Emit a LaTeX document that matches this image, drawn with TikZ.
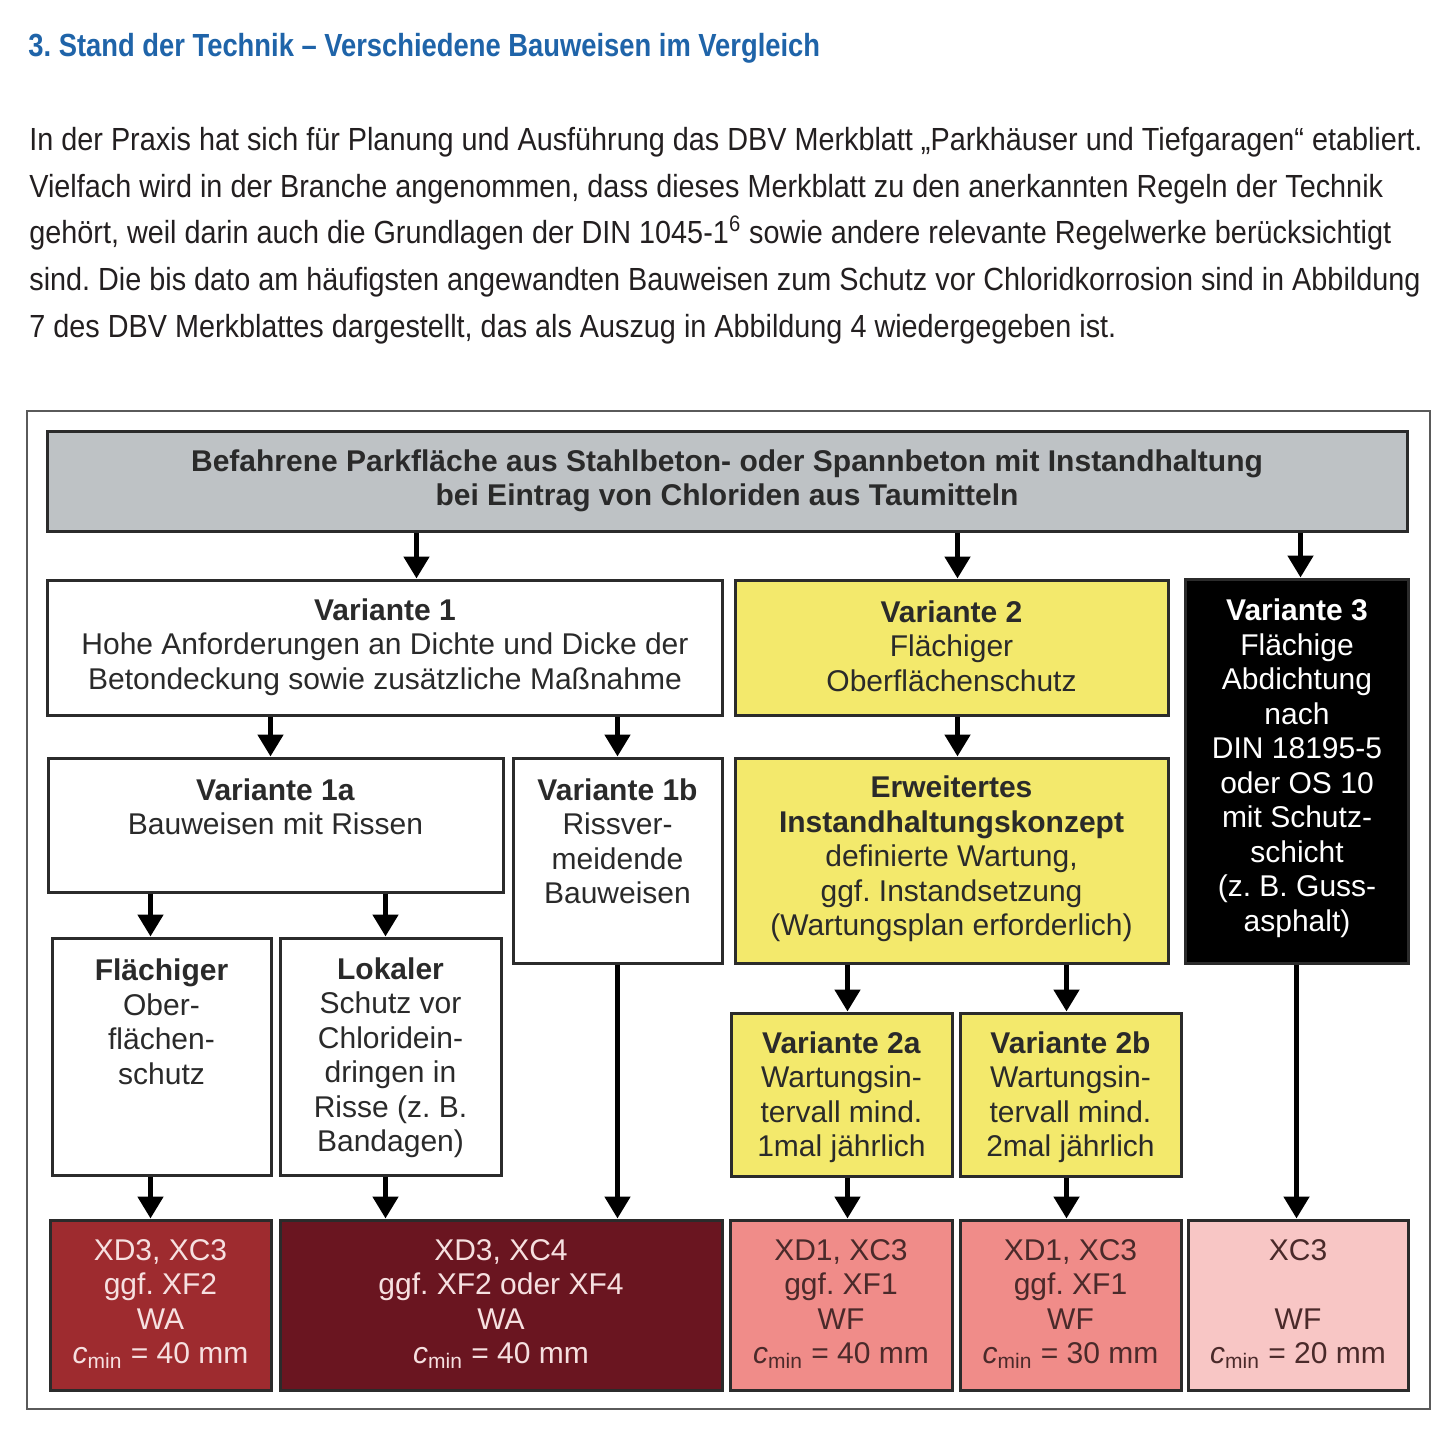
\documentclass[tikz,border=0pt]{standalone}
\usepackage{fontspec}
\setmainfont{Liberation Sans}
\newfontfamily\bodyfont[FakeStretch=0.9]{Liberation Sans}
\newfontfamily\headfont[FakeStretch=0.855]{Liberation Sans}
\usetikzlibrary{arrows.meta,calc}
\frenchspacing

\definecolor{titleblue}{HTML}{1F64A9}
\definecolor{bodytext}{HTML}{231F20}
\definecolor{framegray}{HTML}{5A5A5A}
\definecolor{boxline}{HTML}{2B2B2B}
\definecolor{boxtext}{HTML}{2A2A2A}
\definecolor{topgray}{HTML}{BEC2C5}
\definecolor{varyellow}{HTML}{F3E96C}
\definecolor{expA}{HTML}{9E2B2F}
\definecolor{expB}{HTML}{6A1520}
\definecolor{expC}{HTML}{F08C89}
\definecolor{expD}{HTML}{F8C6C5}
\definecolor{lighttext}{HTML}{F6E0E0}
\definecolor{darktext}{HTML}{4A2A2A}

\tikzset{
  box/.style={draw=boxline, line width=1.5pt, inner sep=0pt},
  lbl/.style={align=center, inner sep=0pt, text=boxtext,
    font=\fontsize{15}{17.25}\selectfont},
  arr/.style={line width=2.5pt, -{Triangle[width=12.5pt,length=11pt]}},
  bodyline/.style={anchor=base west, inner sep=0pt, text=bodytext,
    font=\bodyfont\fontsize{16}{20}\selectfont},
}

\newcommand{\cmin}{{\itshape c}\textsubscript{min}}

\begin{document}
\begin{tikzpicture}[x=0.5pt, y=-0.5pt]
  \useasboundingbox (0,0) rectangle (1444,1428);
  \fill[white] (0,0) rectangle (1444,1428);

  % heading and text above the figure
  \node[anchor=base west, inner sep=0pt, text=titleblue,
    font=\headfont\bfseries\fontsize{16}{18}\selectfont] (title) at (28,57)
    {3. Stand der Technik – Verschiedene Bauweisen im Vergleich};
  \node[bodyline] (line1) at (29,151) {In der Praxis hat sich für Planung und Ausführung das DBV Merkblatt „Parkhäuser und Tiefgaragen“ etabliert.};
  \node[bodyline] (line2) at (29,197.5) {Vielfach wird in der Branche angenommen, dass dieses Merkblatt zu den anerkannten Regeln der Technik};
  \node[bodyline] (line3) at (29,244) {gehört, weil darin auch die Grundlagen der DIN 1045-1\textsuperscript{6} sowie andere relevante Regelwerke berücksichtigt};
  \node[bodyline] (line4) at (29,290.5) {sind. Die bis dato am häufigsten angewandten Bauweisen zum Schutz vor Chloridkorrosion sind in Abbildung};
  \node[bodyline] (line5) at (29,337) {7 des DBV Merkblattes dargestellt, das als Auszug in Abbildung 4 wiedergegeben ist.};

  % figure frame
  \draw[framegray, line width=0.75pt] (27,411) rectangle (1430,1409);

  % boxes
  \node[box, fill=topgray, minimum width=680pt, minimum height=50pt] (top) at (727,481) {};
  \node[box, fill=white, minimum width=337.5pt, minimum height=67.5pt] (v1) at (384.5,647.5) {};
  \node[box, fill=varyellow, minimum width=216.5pt, minimum height=67.5pt] (v2) at (951.5,647.5) {};
  \node[box, fill=black, minimum width=111.5pt, minimum height=192pt] (v3) at (1296.5,771) {};
  \node[box, fill=white, minimum width=227.5pt, minimum height=67pt] (v1a) at (275.5,825) {};
  \node[box, fill=white, minimum width=104.5pt, minimum height=102.5pt] (v1b) at (617.5,860.5) {};
  \node[box, fill=varyellow, minimum width=216.5pt, minimum height=102.5pt] (erw) at (951.5,860.5) {};
  \node[box, fill=white, minimum width=109.5pt, minimum height=118.5pt] (flaech) at (161.5,1056.5) {};
  \node[box, fill=white, minimum width=110.5pt, minimum height=118.5pt] (lokal) at (390.5,1056.5) {};
  \node[box, fill=varyellow, minimum width=110.5pt, minimum height=81.5pt] (v2a) at (841.5,1094.5) {};
  \node[box, fill=varyellow, minimum width=110.5pt, minimum height=81.5pt] (v2b) at (1070.5,1094.5) {};
  \node[box, fill=expA, minimum width=110.5pt, minimum height=85pt] (exp1) at (160.5,1305) {};
  \node[box, fill=expB, minimum width=221pt, minimum height=85pt] (exp2) at (501,1305) {};
  \node[box, fill=expC, minimum width=111pt, minimum height=85pt] (exp3) at (841,1305) {};
  \node[box, fill=expC, minimum width=110.5pt, minimum height=85pt] (exp4) at (1070.5,1305) {};
  \node[box, fill=expD, minimum width=110pt, minimum height=85pt] (exp5) at (1298,1305) {};

  % texts in the boxes
  \node[lbl] (top-t) at (727,481) {\textbf{Befahrene Parkfläche aus Stahlbeton- oder Spannbeton mit Instandhaltung}\\\textbf{bei Eintrag von Chloriden aus Taumitteln}};
  \node[lbl] (v1-t) at (385,647) {\textbf{Variante 1}\\Hohe Anforderungen an Dichte und Dicke der\\Betondeckung sowie zusätzliche Maßnahme};
  \node[lbl] (v2-t) at (951.5,646) {\textbf{Variante 2}\\Flächiger\\Oberflächenschutz};
  \node[lbl, text=white] (v3-t) at (1297,768) {\textbf{Variante 3}\\Flächige\\Abdichtung\\nach\\DIN 18195-5\\oder OS 10\\mit Schutz-\\schicht\\(z. B. Guss-\\asphalt)};
  \node[lbl] (v1a-t) at (275.5,807) {\textbf{Variante 1a}\\Bauweisen mit Rissen};
  \node[lbl] (v1b-t) at (617.5,841.5) {\textbf{Variante 1b}\\Rissver-\\meidende\\Bauweisen};
  \node[lbl] (erw-t) at (951.5,859) {\textbf{Erweitertes}\\\textbf{Instandhaltungskonzept}\\definierte Wartung,\\ggf. Instandsetzung\\(Wartungsplan erforderlich)};
  \node[lbl] (flaech-t) at (161.5,1022) {\textbf{Flächiger}\\Ober-\\flächen-\\schutz};
  \node[lbl] (lokal-t) at (390.5,1057.5) {\textbf{Lokaler}\\Schutz vor\\Chloridein-\\dringen in\\Risse (z. B.\\Bandagen)};
  \node[lbl] (v2a-t) at (841.5,1097) {\textbf{Variante 2a}\\Wartungsin-\\tervall mind.\\1mal jährlich};
  \node[lbl] (v2b-t) at (1070.5,1097) {\textbf{Variante 2b}\\Wartungsin-\\tervall mind.\\2mal jährlich};
  \node[lbl, text=lighttext] (exp1-t) at (160.5,1304) {XD3, XC3\\ggf. XF2\\WA\\\cmin{} = 40 mm};
  \node[lbl, text=lighttext] (exp2-t) at (501,1304) {XD3, XC4\\ggf. XF2 oder XF4\\WA\\\cmin{} = 40 mm};
  \node[lbl, text=darktext] (exp3-t) at (841,1304) {XD1, XC3\\ggf. XF1\\WF\\\cmin{} = 40 mm};
  \node[lbl, text=darktext] (exp4-t) at (1070.5,1304) {XD1, XC3\\ggf. XF1\\WF\\\cmin{} = 30 mm};
  \node[lbl, text=darktext] (exp5-t) at (1298,1304) {XC3\\~\\WF\\\cmin{} = 20 mm};

  % arrows
  \draw[arr] ($(top.south -| v1.north)+(32,0)$) -- ($(v1.north)+(32,0)$);
  \draw[arr] ($(top.south -| v2.north)+(6,0)$) -- ($(v2.north)+(6,0)$);
  \draw[arr] ($(top.south -| v3.north)+(4,0)$) -- ($(v3.north)+(4,0)$);
  \draw[arr] ($(v1.south -| v1a.north)+(-5,0)$) -- ($(v1a.north)+(-5,0)$);
  \draw[arr] (v1.south -| v1b.north) -- (v1b.north);
  \draw[arr] ($(v2.south)+(6,0)$) -- ($(erw.north)+(6,0)$);
  \draw[arr] ($(v1a.south -| flaech.north)+(-11,0)$) -- ($(flaech.north)+(-11,0)$);
  \draw[arr] ($(v1a.south -| lokal.north)+(-5,0)$) -- ($(lokal.north)+(-5,0)$);
  \draw[arr] ($(erw.south -| v2a.north)+(6,0)$) -- ($(v2a.north)+(6,0)$);
  \draw[arr] ($(erw.south -| v2b.north)+(-4,0)$) -- ($(v2b.north)+(-4,0)$);
  \draw[arr] ($(flaech.south)+(-11,0)$) -- ($(exp1.north -| flaech.south)+(-11,0)$);
  \draw[arr] ($(lokal.south)+(-5,0)$) -- ($(exp2.north -| lokal.south)+(-5,0)$);
  \draw[arr] (v1b.south) -- (exp2.north -| v1b.south);
  \draw[arr] ($(v2a.south)+(6,0)$) -- ($(exp3.north -| v2a.south)+(6,0)$);
  \draw[arr] ($(v2b.south)+(-4,0)$) -- ($(exp4.north -| v2b.south)+(-4,0)$);
  \draw[arr] (v3.south) -- (exp5.north -| v3.south);
\end{tikzpicture}
\end{document}
